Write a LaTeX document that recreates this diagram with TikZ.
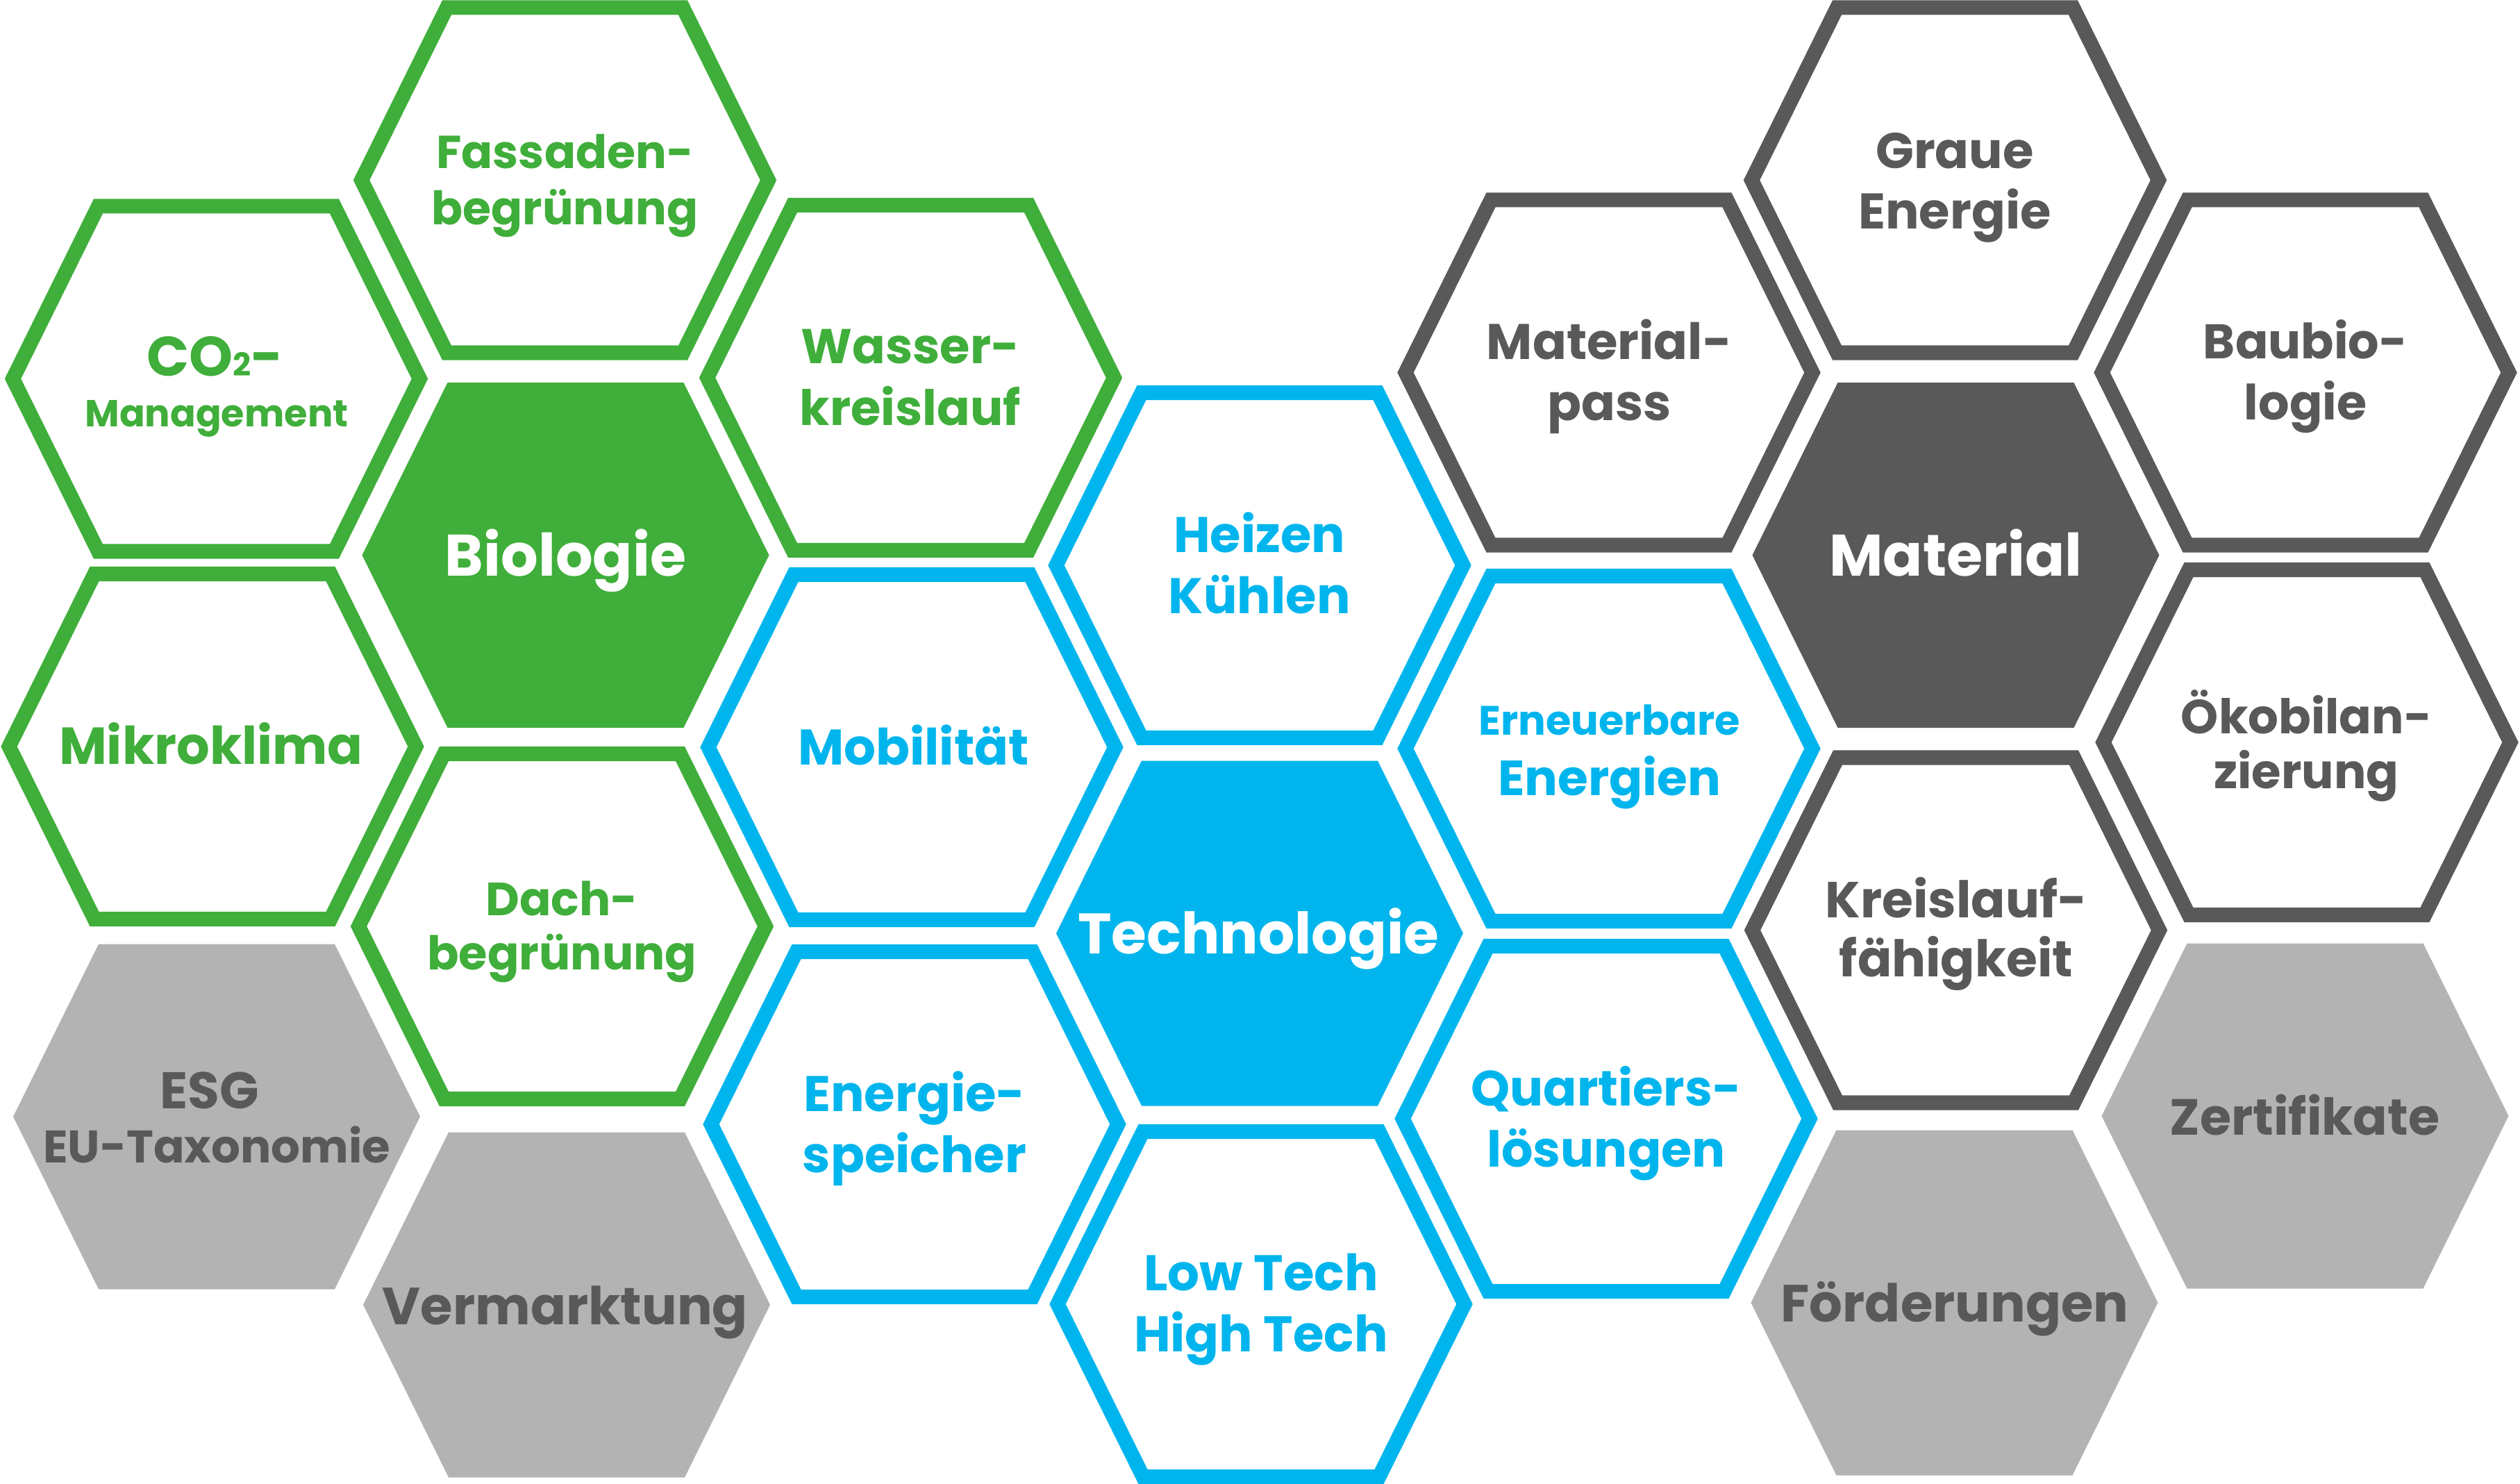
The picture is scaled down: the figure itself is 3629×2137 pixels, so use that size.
\documentclass[tikz,border=0pt]{standalone}
\usepackage{fontspec}
\setmainfont{Poppins}
\definecolor{cgreen}{RGB}{63,174,58}
\definecolor{cblue}{RGB}{0,181,237}
\definecolor{cdark}{RGB}{89,89,89}
\definecolor{clight}{RGB}{179,179,179}
\newcommand{\hexshape}{(-293,0) -- (-170,-248.5) -- (170,-248.5) -- (293,0) -- (170,248.5) -- (-170,248.5) -- cycle}
\newcommand{\hexout}[4]{\coordinate (#1) at (#2,#3);
  \draw[hexline, draw=#4, shift={(#1)}] \hexshape;}
\newcommand{\hexfill}[4]{\coordinate (#1) at (#2,#3);
  \fill[#4, shift={(#1)}] \hexshape;}
% name, x, baseline y, size pt, colour, text
\newcommand{\lab}[6]{\node[hextext, text=#5, font=\fontsize{#4pt}{#4pt}\selectfont\bfseries] (#1) at (#2,#3) {#6};}
\begin{document}
\begin{tikzpicture}[x=0.01cm, y=-0.01cm,
  hexline/.style={line width=0.21cm, line join=miter},
  hextext/.style={anchor=base, inner sep=0pt, outer sep=0pt}]
\useasboundingbox (0,0) rectangle (3629,2137);
% ---------------- green
\hexout{fassaden}{813.5}{259.5}{cgreen}
\hexout{co}{311.5}{545.5}{cgreen}
\hexout{wasser}{1311.5}{544}{cgreen}
\hexfill{biologie}{814.5}{799.5}{cgreen}
\hexout{mikro}{306}{1075}{cgreen}
\hexout{dach}{809.5}{1334}{cgreen}
% ---------------- blue
\hexout{heizen}{1814}{814}{cblue}
\hexout{mobil}{1313}{1076}{cblue}
\hexfill{techno}{1814}{1344}{cblue}
\hexout{speicher}{1317}{1619}{cblue}
\hexout{lowtech}{1816}{1878}{cblue}
\hexout{erneuer}{2317}{1078}{cblue}
\hexout{quartier}{2313}{1611}{cblue}
% ---------------- dark grey
\hexout{graue}{2815.5}{259.5}{cdark}
\hexout{matpass}{2317}{536.5}{cdark}
\hexfill{material}{2816.5}{799.5}{cdark}
\hexout{baubio}{3320}{536.5}{cdark}
\hexout{oeko}{3322}{1069}{cdark}
\hexout{kreis}{2816.5}{1339.5}{cdark}
% ---------------- light grey
\hexfill{esg}{312}{1608}{clight}
\hexfill{vermarkt}{816}{1879}{clight}
\hexfill{foerder}{2814.5}{1876}{clight}
\hexfill{zerti}{3319.5}{1607}{clight}
% ---------------- labels
\lab{fassadenA}{813.5}{242.7}{18.9}{cgreen}{Fassaden-}
\lab{fassadenB}{813.5}{323.4}{18.9}{cgreen}{begrünung}
\lab{coA}{310}{542}{22.8}{cgreen}{CO{\fontsize{13pt}{13pt}\selectfont 2}-}
\lab{coB}{312}{614.5}{15.4}{cgreen}{Management}
\lab{wasserA}{1310.7}{524}{20}{cgreen}{Wasser-}
\lab{wasserB}{1310.7}{612.4}{20}{cgreen}{kreislauf}
\lab{biologieA}{814.5}{829.3}{24}{white}{Biologie}
\lab{mikroA}{304}{1100.8}{21.3}{cgreen}{Mikroklima}
\lab{dachA}{809.2}{1318.3}{19.1}{cgreen}{Dach-}
\lab{dachB}{809.2}{1396.9}{19.1}{cgreen}{begrünung}
\lab{heizenA}{1813.8}{795.5}{20.5}{cblue}{Heizen}
\lab{heizenB}{1813.8}{883.5}{20.5}{cblue}{Kühlen}
\lab{mobilA}{1315.4}{1101.5}{20.5}{cblue}{Mobilität}
\lab{technoA}{1812}{1373}{23.4}{white}{Technologie}
\lab{speicherA}{1317}{1600.3}{20.5}{cblue}{Energie-}
\lab{speicherB}{1317}{1688}{20.5}{cblue}{speicher}
\lab{lowtechA}{1816}{1858.5}{20.5}{cblue}{Low Tech}
\lab{lowtechB}{1816}{1946}{20.5}{cblue}{High Tech}
\lab{erneuerA}{2317.7}{1058.5}{16.8}{cblue}{Erneuerbare}
\lab{erneuerB}{2317.7}{1146}{20.2}{cblue}{Energien}
\lab{quartierA}{2313}{1592}{20.3}{cblue}{Quartiers-}
\lab{quartierB}{2313}{1680}{20.3}{cblue}{lösungen}
\lab{graueA}{2815}{242.7}{20.5}{cdark}{Graue}
\lab{graueB}{2815}{329.7}{20.5}{cdark}{Energie}
\lab{matpassA}{2317.4}{518}{20.5}{cdark}{Material-}
\lab{matpassB}{2317.4}{606}{20.5}{cdark}{pass}
\lab{materialA}{2816.6}{829.2}{24}{white}{Material}
\lab{baubioA}{3320}{517}{19.9}{cdark}{Baubio-}
\lab{baubioB}{3320}{604.7}{19.9}{cdark}{logie}
\lab{oekoA}{3321.5}{1057}{19.6}{cdark}{Ökobilan-}
\lab{oekoB}{3321.5}{1135.8}{19.6}{cdark}{zierung}
\lab{kreisA}{2817}{1321}{20.7}{cdark}{Kreislauf-}
\lab{kreisB}{2817}{1406.7}{20.7}{cdark}{fähigkeit}
\lab{esgA}{302}{1596}{21.1}{cdark}{ESG}
\lab{esgB}{312.2}{1674.7}{18.7}{cdark}{EU-Taxonomie}
\lab{vermarktA}{814}{1907}{21.4}{cdark}{Vermarktung}
\lab{foerderA}{2814.9}{1903}{21.4}{cdark}{Förderungen}
\lab{zertiA}{3319}{1634}{20.8}{cdark}{Zertifikate}
\end{tikzpicture}
\end{document}
